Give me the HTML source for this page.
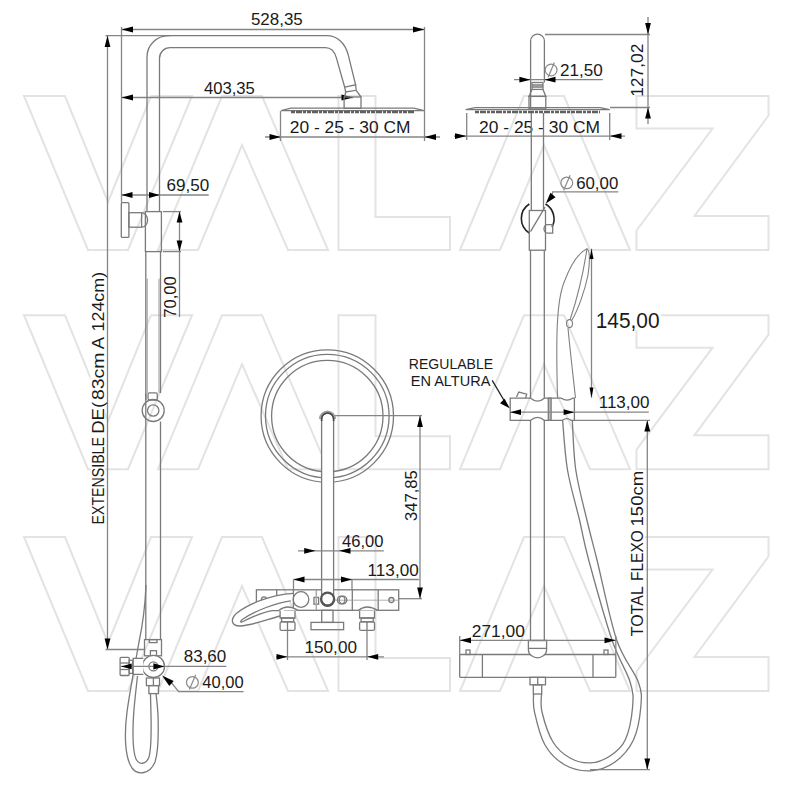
<!DOCTYPE html>
<html><head><meta charset="utf-8"><style>
html,body{margin:0;padding:0;background:#fff;}
svg{display:block;}
text{font-family:"Liberation Sans",sans-serif;}
</style></head><body>
<svg width="792" height="786" viewBox="0 0 792 786">
<rect width="792" height="786" fill="#fff"/>
<path d="M24,96 L65,96 L108,202 L151,96 L192,96 L128,250 L88,250 Z" stroke="#e3e3e3" stroke-width="2" fill="none"/>
<path d="M222,96 L262,96 L328,250 L288,250 L242,145 L198,250 L158,250 Z" stroke="#e3e3e3" stroke-width="2" fill="none"/>
<path d="M338.5,96 L375.5,96 L375.5,217 L450,217 L450,250 L338.5,250 Z" stroke="#e3e3e3" stroke-width="2" fill="none"/>
<path d="M524,96 L564,96 L630,250 L590,250 L544,145 L500,250 L460,250 Z" stroke="#e3e3e3" stroke-width="2" fill="none"/>
<path d="M636.5,96 L768.5,96 L768.5,115.5 L694.5,216 L768.5,216 L768.5,250 L636.5,250 L636.5,230.5 L712.5,128.5 L636.5,128.5 Z" stroke="#e3e3e3" stroke-width="2" fill="none"/>
<path d="M24,315.2 L65,315.2 L108,421.2 L151,315.2 L192,315.2 L128,469.2 L88,469.2 Z" stroke="#e3e3e3" stroke-width="2" fill="none"/>
<path d="M222,315.2 L262,315.2 L328,469.2 L288,469.2 L242,364.2 L198,469.2 L158,469.2 Z" stroke="#e3e3e3" stroke-width="2" fill="none"/>
<path d="M338.5,315.2 L375.5,315.2 L375.5,436.2 L450,436.2 L450,469.2 L338.5,469.2 Z" stroke="#e3e3e3" stroke-width="2" fill="none"/>
<path d="M524,315.2 L564,315.2 L630,469.2 L590,469.2 L544,364.2 L500,469.2 L460,469.2 Z" stroke="#e3e3e3" stroke-width="2" fill="none"/>
<path d="M636.5,315.2 L768.5,315.2 L768.5,334.7 L694.5,435.2 L768.5,435.2 L768.5,469.2 L636.5,469.2 L636.5,449.7 L712.5,347.7 L636.5,347.7 Z" stroke="#e3e3e3" stroke-width="2" fill="none"/>
<path d="M24,537 L65,537 L108,643 L151,537 L192,537 L128,691 L88,691 Z" stroke="#e3e3e3" stroke-width="2" fill="none"/>
<path d="M222,537 L262,537 L328,691 L288,691 L242,586 L198,691 L158,691 Z" stroke="#e3e3e3" stroke-width="2" fill="none"/>
<path d="M338.5,537 L375.5,537 L375.5,658 L450,658 L450,691 L338.5,691 Z" stroke="#e3e3e3" stroke-width="2" fill="none"/>
<path d="M524,537 L564,537 L630,691 L590,691 L544,586 L500,691 L460,691 Z" stroke="#e3e3e3" stroke-width="2" fill="none"/>
<path d="M636.5,537 L768.5,537 L768.5,556.5 L694.5,657 L768.5,657 L768.5,691 L636.5,691 L636.5,671.5 L712.5,569.5 L636.5,569.5 Z" stroke="#e3e3e3" stroke-width="2" fill="none"/>
<rect x="596" y="311" width="65" height="19" fill="#fff"/>
<rect x="630" y="470" width="15" height="167" fill="#fff"/>
<rect x="90.5" y="272" width="14.5" height="252" fill="#fff"/>
<line x1="121.5" y1="29.5" x2="424.5" y2="29.5" stroke="#858585" stroke-width="1.3"/>
<polygon points="121.50,29.50 133.00,26.60 133.00,32.40" fill="#000"/>
<polygon points="424.50,29.50 413.00,32.40 413.00,26.60" fill="#000"/>
<text x="250.92" y="25.2" font-size="17" textLength="51.89" lengthAdjust="spacingAndGlyphs" fill="#1a1a1a" >528,35</text>
<line x1="121.5" y1="27" x2="121.5" y2="202.5" stroke="#858585" stroke-width="1.3"/>
<line x1="424.5" y1="27" x2="424.5" y2="141" stroke="#858585" stroke-width="1.3"/>
<line x1="105.5" y1="35.7" x2="170" y2="35.7" stroke="#858585" stroke-width="1.3"/>
<line x1="121.5" y1="97.5" x2="353" y2="97.5" stroke="#858585" stroke-width="1.3"/>
<polygon points="121.50,97.50 133.00,94.60 133.00,100.40" fill="#000"/>
<polygon points="353.00,97.50 341.50,100.40 341.50,94.60" fill="#000"/>
<text x="203.92" y="93.6" font-size="17" textLength="50.98" lengthAdjust="spacingAndGlyphs" fill="#1a1a1a" >403,35</text>
<line x1="107.5" y1="35.7" x2="107.5" y2="649.7" stroke="#858585" stroke-width="1.3"/>
<polygon points="107.50,35.70 110.40,47.00 104.60,47.00" fill="#000"/>
<polygon points="107.50,649.70 104.60,638.50 110.40,638.50" fill="#000"/>
<line x1="105.5" y1="649.5" x2="144" y2="649.5" stroke="#858585" stroke-width="1.3"/>
<text transform="translate(103.8,524.46) rotate(-90)" x="0" y="0" font-size="16" textLength="87.37" lengthAdjust="spacingAndGlyphs" fill="#1a1a1a">EXTENSIBLE</text>
<text transform="translate(103.8,433.72) rotate(-90)" x="0" y="0" font-size="16" textLength="31.82" lengthAdjust="spacingAndGlyphs" fill="#1a1a1a">DE(</text>
<text transform="translate(103.8,400.04) rotate(-90)" x="0" y="0" font-size="16" textLength="47.42" lengthAdjust="spacingAndGlyphs" fill="#1a1a1a">83cm</text>
<text transform="translate(103.8,349.34) rotate(-90)" x="0" y="0" font-size="16" textLength="12.27" lengthAdjust="spacingAndGlyphs" fill="#1a1a1a">A</text>
<text transform="translate(103.8,331.46) rotate(-90)" x="0" y="0" font-size="16" textLength="59.57" lengthAdjust="spacingAndGlyphs" fill="#1a1a1a">124cm)</text>
<path d="M147,211.6 V57.4 A21.5,21.5 0 0 1 168.5,35.7 H326.6 C338,35.7 345.5,44 348.3,55.2 L355.6,84.8" stroke="#7a7a7a" stroke-width="1.3" fill="none" />
<path d="M159.5,211.6 V58.2 A10.5,10.5 0 0 1 170,47.7 H325.4 C330,47.7 334,50 336.3,57.6 L344.7,87.2" stroke="#7a7a7a" stroke-width="1.3" fill="none" />
<path d="M344.7,87.2 L355.6,84.8 L356.2,90.3 L345.7,92 Z" stroke="#7a7a7a" stroke-width="1.3" fill="none" />
<path d="M345.7,92 L344.5,97 M356.2,90.3 L361,97" stroke="#7a7a7a" stroke-width="1.3" fill="none" />
<rect x="344.1" y="97" width="16.90" height="11.40" rx="0" stroke="#7a7a7a" stroke-width="1.3" fill="none"/>
<path d="M281,110.7 L291,108.1 H414 L424,110.7 Z" stroke="#7a7a7a" stroke-width="1.3" fill="none" />
<line x1="291" y1="112" x2="414" y2="112" stroke="#606060" stroke-width="2.6" stroke-dasharray="4,1,6,1,3,1"/>
<line x1="265" y1="137" x2="440" y2="137" stroke="#858585" stroke-width="1.3"/>
<polygon points="281.00,137.00 269.50,139.90 269.50,134.10" fill="#000"/>
<polygon points="424.50,137.00 436.00,134.10 436.00,139.90" fill="#000"/>
<line x1="280.5" y1="111" x2="280.5" y2="141" stroke="#858585" stroke-width="1.3"/>
<text x="289.83" y="133.4" font-size="17" textLength="120.60" lengthAdjust="spacingAndGlyphs" fill="#1a1a1a" >20 - 25 - 30 CM</text>
<rect x="121.3" y="202.7" width="7.60" height="34.70" rx="1" stroke="#7a7a7a" stroke-width="1.3" fill="none"/>
<rect x="128.9" y="212.7" width="12.70" height="14.50" rx="0" stroke="#7a7a7a" stroke-width="1.3" fill="none"/>
<path d="M141.6,212.7 A6,7.25 0 0 1 141.6,227.2" stroke="#7a7a7a" stroke-width="1.3" fill="none" />
<rect x="145.4" y="211.6" width="16.00" height="40.00" rx="0" stroke="#7a7a7a" stroke-width="1.3" fill="none"/>
<line x1="121.5" y1="195" x2="208.7" y2="195" stroke="#858585" stroke-width="1.3"/>
<polygon points="121.50,195.00 132.50,192.10 132.50,197.90" fill="#000"/>
<polygon points="159.90,195.00 149.00,197.90 149.00,192.10" fill="#000"/>
<text x="166.63" y="190.5" font-size="17" textLength="42.73" lengthAdjust="spacingAndGlyphs" fill="#1a1a1a" >69,50</text>
<line x1="163" y1="211.6" x2="181" y2="211.6" stroke="#858585" stroke-width="1.3"/>
<line x1="163" y1="251.6" x2="181" y2="251.6" stroke="#858585" stroke-width="1.3"/>
<line x1="179.5" y1="211.6" x2="179.5" y2="317" stroke="#858585" stroke-width="1.3"/>
<polygon points="179.50,211.60 182.40,222.60 176.60,222.60" fill="#000"/>
<polygon points="179.50,251.60 176.60,240.60 182.40,240.60" fill="#000"/>
<text transform="translate(176,317.85) rotate(-90)" x="0" y="0" font-size="17" textLength="41.60" lengthAdjust="spacingAndGlyphs" fill="#1a1a1a">70,00</text>
<path d="M145.8,251.6 V639.6 M160.5,251.6 V392.9 M160.5,421.5 V639.6" stroke="#7a7a7a" stroke-width="1.3" fill="none" />
<path d="M145.8,392.9 V400" stroke="#7a7a7a" stroke-width="1.3" fill="none" />
<rect x="148" y="392.9" width="9.30" height="7.10" rx="1.5" stroke="#7a7a7a" stroke-width="1.3" fill="none"/>
<line x1="147.2" y1="278.7" x2="147.2" y2="392.9" stroke="#999" stroke-width="1"/>
<line x1="159" y1="278.7" x2="159" y2="392.9" stroke="#999" stroke-width="1"/>
<circle cx="153.2" cy="410.5" r="11" stroke="#7a7a7a" stroke-width="1.3" fill="none"/>
<circle cx="153.2" cy="410.5" r="5.7" stroke="#7a7a7a" stroke-width="1.3" fill="none"/>
<path d="M146,585 C145,610 142,628 139,642 C135,665 130,690 127,712 C124,735 125,758 132,768 C138,776 150,774 155,762 C159,750 158.5,730 158,715 C157.5,705 156.5,698 156,693.6" stroke="#7a7a7a" stroke-width="1.3" fill="none" />
<path d="M137.5,676 C136,690 134,705 133.3,720 C132.5,738 133,752 136,759 C139,765 146,765 149,757 C151.5,748 151.3,730 151,715 C150.8,705 150.5,698 150.5,693.6" stroke="#7a7a7a" stroke-width="1.3" fill="none" />
<rect x="144.5" y="639.6" width="17.00" height="16.20" rx="0" stroke="#7a7a7a" stroke-width="1.3" fill="none"/>
<rect x="149.4" y="639.6" width="7.60" height="3.00" rx="0" stroke="#7a7a7a" stroke-width="1.3" fill="none"/>
<rect x="150.4" y="650.7" width="6.10" height="5.10" rx="0" stroke="#7a7a7a" stroke-width="1.3" fill="none"/>
<circle cx="153.4" cy="666.4" r="11.1" stroke="#7a7a7a" stroke-width="1.3" fill="#fff"/>
<circle cx="153.4" cy="666.4" r="4.5" stroke="#7a7a7a" stroke-width="1.3" fill="none"/>
<rect x="120.1" y="657.3" width="9.10" height="18.20" rx="1" stroke="#7a7a7a" stroke-width="1.3" fill="none"/>
<line x1="120.1" y1="663" x2="129.2" y2="663" stroke="#7a7a7a" stroke-width="1.3"/>
<line x1="120.1" y1="669.5" x2="129.2" y2="669.5" stroke="#7a7a7a" stroke-width="1.3"/>
<rect x="129.2" y="660.3" width="3.50" height="13.10" rx="0" stroke="#7a7a7a" stroke-width="1.3" fill="none"/>
<path d="M143.3,658.3 H133.2 V674.4 H143.3" stroke="#7a7a7a" stroke-width="1.3" fill="#fff" />
<line x1="121" y1="666.4" x2="226.4" y2="666.4" stroke="#858585" stroke-width="1.3"/>
<polygon points="121.00,666.40 131.70,663.50 131.70,669.30" fill="#000"/>
<polygon points="164.50,666.40 153.40,669.60 153.40,663.20" fill="#000"/>
<text x="183.76" y="662" font-size="17" textLength="42.50" lengthAdjust="spacingAndGlyphs" fill="#1a1a1a" >83,60</text>
<path d="M170,681 L178.7,691.6 H243.6" stroke="#858585" stroke-width="1.3" fill="none" />
<polygon points="162.00,675.50 173.69,680.90 169.31,686.10" fill="#000"/>
<ellipse cx="192.40" cy="682.40" rx="5.9" ry="5.8" stroke="#8a8a8a" stroke-width="1.2" fill="none"/>
<line x1="189.40" y1="689.60" x2="195.70" y2="674.80" stroke="#8a8a8a" stroke-width="1.2"/>
<text x="202.32" y="688" font-size="17" textLength="41.32" lengthAdjust="spacingAndGlyphs" fill="#1a1a1a" >40,00</text>
<rect x="146.4" y="678" width="13.10" height="7.60" rx="0" stroke="#7a7a7a" stroke-width="1.3" fill="none"/>
<line x1="153.4" y1="678" x2="153.4" y2="685.6" stroke="#7a7a7a" stroke-width="1.3"/>
<rect x="148.9" y="685.6" width="9.60" height="8.00" rx="0" stroke="#7a7a7a" stroke-width="1.3" fill="none"/>
<circle cx="327.3" cy="416.1" r="66.2" stroke="#7a7a7a" stroke-width="1.3" fill="none"/>
<circle cx="327.3" cy="416.1" r="61.8" stroke="#7a7a7a" stroke-width="1.3" fill="none"/>
<circle cx="327.3" cy="416.1" r="55.7" stroke="#7a7a7a" stroke-width="1.3" fill="none"/>
<line x1="335" y1="415.7" x2="422" y2="415.7" stroke="#858585" stroke-width="1.3"/>
<line x1="399" y1="598.7" x2="422" y2="598.7" stroke="#858585" stroke-width="1.3"/>
<line x1="420" y1="415.7" x2="420" y2="598.7" stroke="#858585" stroke-width="1.3"/>
<polygon points="420.00,415.70 422.90,427.00 417.10,427.00" fill="#000"/>
<polygon points="420.00,598.70 417.10,587.50 422.90,587.50" fill="#000"/>
<text transform="translate(417,521.03) rotate(-90)" x="0" y="0" font-size="17" textLength="50.73" lengthAdjust="spacingAndGlyphs" fill="#1a1a1a">347,85</text>
<rect x="256.4" y="589.8" width="142.30" height="20.50" rx="0" stroke="#7a7a7a" stroke-width="1.3" fill="none"/>
<line x1="276.7" y1="589.8" x2="276.7" y2="610.3" stroke="#7a7a7a" stroke-width="1.3"/>
<line x1="293.4" y1="589.8" x2="293.4" y2="610.3" stroke="#7a7a7a" stroke-width="1.3"/>
<line x1="352.3" y1="589.8" x2="352.3" y2="610.3" stroke="#7a7a7a" stroke-width="1.3"/>
<line x1="378.2" y1="589.8" x2="378.2" y2="610.3" stroke="#7a7a7a" stroke-width="1.3"/>
<line x1="333.6" y1="600.2" x2="399" y2="600.2" stroke="#999" stroke-width="0.8"/>
<circle cx="264" cy="599.4" r="2.5" stroke="#7a7a7a" stroke-width="1.3" fill="none"/>
<circle cx="391.4" cy="600" r="2.5" stroke="#7a7a7a" stroke-width="1.3" fill="none"/>
<circle cx="301" cy="599.5" r="7.8" stroke="#7a7a7a" stroke-width="1.3" fill="none"/>
<rect x="314" y="597.4" width="4.60" height="6.80" rx="0" stroke="#7a7a7a" stroke-width="1.3" fill="none"/>
<line x1="316.3" y1="590" x2="316.3" y2="610" stroke="#aaa" stroke-width="1.5"/>
<circle cx="343" cy="600" r="3.8" stroke="#7a7a7a" stroke-width="1.3" fill="none"/>
<circle cx="341.2" cy="600" r="3.8" stroke="#7a7a7a" stroke-width="1.3" fill="none"/>
<path d="M321.6,599 V419 A6,6 0 0 1 333.6,419 V599 A6,6 0 0 1 321.6,599 Z" stroke="#7a7a7a" stroke-width="1.3" fill="#fff" />
<path d="M320.2,419 A7.3,7.3 0 0 1 334.8,419" stroke="#a0a0a0" stroke-width="2.6" fill="none" />
<path d="M321.6,421 V419 A6,6 0 0 1 333.6,419 V421" stroke="#444" stroke-width="1.6" fill="none" />
<circle cx="327.6" cy="599.2" r="6.6" stroke="#555" stroke-width="2.2" fill="none"/>
<rect x="321.7" y="610.3" width="11.30" height="12.10" rx="0" stroke="#7a7a7a" stroke-width="1.3" fill="none"/>
<rect x="311" y="622.4" width="32.60" height="7.30" rx="0" stroke="#7a7a7a" stroke-width="1.3" fill="none"/>
<path d="M293.4,593.4 C270,595 248,604 237,613 C230,619 231,626 240,626 C254,625 268,619 280.2,616 L290.8,600.9 Z" stroke="none" stroke-width="1.3" fill="#fff" />
<path d="M293.4,593.4 C270,595 248,604 237,613 C230,619 231,626 240,626 C254,625 268,619 280.2,616" stroke="#7a7a7a" stroke-width="1.3" fill="none" />
<path d="M290.8,600.9 C275,603 255,611 243,619 C240,621 240,622.5 242,622 C252,617 262,612 272.2,610.6 L279.3,610.6" stroke="#7a7a7a" stroke-width="1.3" fill="none" />
<path d="M278.8,610.4 Q287.5,603.6 297.9,610.4 M280.1,611 V618 H295.0 V611" stroke="#7a7a7a" stroke-width="1.3" fill="#fff" />
<rect x="281.6" y="618" width="12.10" height="3.80" rx="0" stroke="#7a7a7a" stroke-width="1.3" fill="none"/>
<rect x="280.1" y="621.8" width="14.90" height="8.60" rx="1.5" stroke="#7a7a7a" stroke-width="1.3" fill="none"/>
<line x1="287.5" y1="621.8" x2="287.5" y2="630.4" stroke="#7a7a7a" stroke-width="1.3"/>
<line x1="287.5" y1="630.4" x2="287.5" y2="660" stroke="#858585" stroke-width="1.3"/>
<path d="M358.3,610.4 Q367,603.6 377.4,610.4 M359.6,611 V618 H374.5 V611" stroke="#7a7a7a" stroke-width="1.3" fill="#fff" />
<rect x="361.1" y="618" width="12.10" height="3.80" rx="0" stroke="#7a7a7a" stroke-width="1.3" fill="none"/>
<rect x="359.6" y="621.8" width="14.90" height="8.60" rx="1.5" stroke="#7a7a7a" stroke-width="1.3" fill="none"/>
<line x1="367" y1="621.8" x2="367" y2="630.4" stroke="#7a7a7a" stroke-width="1.3"/>
<line x1="367" y1="630.4" x2="367" y2="660" stroke="#858585" stroke-width="1.3"/>
<line x1="298" y1="550.8" x2="383.8" y2="550.8" stroke="#858585" stroke-width="1.3"/>
<polygon points="315.60,550.80 304.20,553.70 304.20,547.90" fill="#000"/>
<polygon points="339.00,550.80 350.50,547.90 350.50,553.70" fill="#000"/>
<text x="342.02" y="547" font-size="17" textLength="41.43" lengthAdjust="spacingAndGlyphs" fill="#1a1a1a" >46,00</text>
<line x1="293.5" y1="579.5" x2="418.9" y2="579.5" stroke="#858585" stroke-width="1.3"/>
<line x1="293.5" y1="579.5" x2="293.5" y2="589.8" stroke="#858585" stroke-width="1.3"/>
<line x1="352" y1="579.5" x2="352" y2="589.8" stroke="#858585" stroke-width="1.3"/>
<polygon points="293.50,579.50 304.50,576.60 304.50,582.40" fill="#000"/>
<polygon points="352.00,579.50 341.00,582.40 341.00,576.60" fill="#000"/>
<text x="367.63" y="576" font-size="17" textLength="51.02" lengthAdjust="spacingAndGlyphs" fill="#1a1a1a" >113,00</text>
<line x1="276" y1="656.8" x2="384" y2="656.8" stroke="#858585" stroke-width="1.3"/>
<polygon points="287.50,656.80 276.50,659.70 276.50,653.90" fill="#000"/>
<polygon points="367.20,656.80 378.20,653.90 378.20,659.70" fill="#000"/>
<text x="304.49" y="653" font-size="17" textLength="52.48" lengthAdjust="spacingAndGlyphs" fill="#1a1a1a" >150,00</text>
<path d="M530.6,108.9 V41 A6.9,6.9 0 0 1 544.4,41 V82.5" stroke="#7a7a7a" stroke-width="1.3" fill="none" />
<rect x="532" y="82.5" width="11.00" height="6.90" rx="0" stroke="#7a7a7a" stroke-width="1.3" fill="none"/>
<path d="M532,85 H543 M532,87 H543" stroke="#7a7a7a" stroke-width="1.3" fill="none" />
<path d="M532,89.4 L529,96.4 H545.8 L543,89.4" stroke="#7a7a7a" stroke-width="1.3" fill="none" />
<rect x="529" y="96.4" width="16.80" height="12.50" rx="0" stroke="#7a7a7a" stroke-width="1.3" fill="none"/>
<path d="M465.7,109.7 L475,107.6 H600 L609.7,109.7 Z" stroke="#7a7a7a" stroke-width="1.3" fill="none" />
<line x1="475" y1="112" x2="600" y2="112" stroke="#606060" stroke-width="2.6" stroke-dasharray="4,1,6,1,3,1"/>
<line x1="545" y1="34.5" x2="650" y2="34.5" stroke="#858585" stroke-width="1.3"/>
<line x1="610" y1="107.5" x2="650" y2="107.5" stroke="#858585" stroke-width="1.3"/>
<line x1="648" y1="17" x2="648" y2="124" stroke="#858585" stroke-width="1.3"/>
<polygon points="648.00,34.50 645.10,23.00 650.90,23.00" fill="#000"/>
<polygon points="648.00,107.50 650.90,118.50 645.10,118.50" fill="#000"/>
<text transform="translate(643.3,96.82) rotate(-90)" x="0" y="0" font-size="17" textLength="53.20" lengthAdjust="spacingAndGlyphs" fill="#1a1a1a">127,02</text>
<line x1="514" y1="79.7" x2="602.8" y2="79.7" stroke="#858585" stroke-width="1.3"/>
<polygon points="530.60,79.70 519.40,82.60 519.40,76.80" fill="#000"/>
<polygon points="544.40,79.70 555.50,76.80 555.50,82.60" fill="#000"/>
<ellipse cx="551.10" cy="70.00" rx="5.9" ry="5.8" stroke="#8a8a8a" stroke-width="1.2" fill="none"/>
<line x1="548.10" y1="77.20" x2="554.40" y2="62.40" stroke="#8a8a8a" stroke-width="1.2"/>
<text x="560.14" y="75.6" font-size="17" textLength="42.73" lengthAdjust="spacingAndGlyphs" fill="#1a1a1a" >21,50</text>
<line x1="454" y1="136.1" x2="625" y2="136.1" stroke="#858585" stroke-width="1.3"/>
<polygon points="466.70,136.10 455.00,139.00 455.00,133.20" fill="#000"/>
<polygon points="609.70,136.10 621.50,133.20 621.50,139.00" fill="#000"/>
<line x1="466.7" y1="113" x2="466.7" y2="140" stroke="#858585" stroke-width="1.3"/>
<line x1="609.7" y1="113" x2="609.7" y2="140" stroke="#858585" stroke-width="1.3"/>
<text x="479.12" y="132.5" font-size="17" textLength="120.90" lengthAdjust="spacingAndGlyphs" fill="#1a1a1a" >20 - 25 - 30 CM</text>
<path d="M531.3,113 V210.5 M543.5,113 V210.5" stroke="#7a7a7a" stroke-width="1.3" fill="none" />
<path d="M529.3,204 A17.2,17.2 0 0 0 529.3,233" stroke="#222" stroke-width="1.6" fill="none" />
<path d="M545.5,204 A17.2,17.2 0 0 1 552,227" stroke="#222" stroke-width="1.6" fill="none" />
<rect x="529.3" y="210.5" width="16.20" height="39.70" rx="0" stroke="#7a7a7a" stroke-width="1.3" fill="none"/>
<line x1="530.5" y1="231.6" x2="545" y2="207.2" stroke="#7a7a7a" stroke-width="1.3"/>
<path d="M552.7,224.7 H547.5 A3.5,4.2 0 0 0 547.5,233.1 H552.7 Z" stroke="#7a7a7a" stroke-width="1.3" fill="none" />
<path d="M551.5,197 L552.7,191.9 H618.3" stroke="#858585" stroke-width="1.3" fill="none" />
<polygon points="545.80,203.40 550.42,192.79 555.58,197.21" fill="#000"/>
<ellipse cx="566.80" cy="182.90" rx="5.9" ry="5.8" stroke="#8a8a8a" stroke-width="1.2" fill="none"/>
<line x1="563.80" y1="190.10" x2="570.10" y2="175.30" stroke="#8a8a8a" stroke-width="1.2"/>
<text x="576.15" y="188.5" font-size="17" textLength="42.11" lengthAdjust="spacingAndGlyphs" fill="#1a1a1a" >60,00</text>
<path d="M530.5,250.2 V398.2 M544.3,250.2 V398.2" stroke="#7a7a7a" stroke-width="1.3" fill="none" />
<path d="M557.5,398 C556,340 556,300 565,280 C572,262 580,252 587,248.7 C590,250 590,262 588,275 C585,290 578,310 572,320" stroke="#808080" stroke-width="1.1" fill="none" />
<path d="M587,248.7 C585,262 580,290 570,320" stroke="#808080" stroke-width="1.1" fill="none" />
<ellipse cx="569.5" cy="323.6" rx="3" ry="4" stroke="#808080" stroke-width="1.1" fill="none"/>
<path d="M568,328 C570,350 573,375 575.5,398" stroke="#808080" stroke-width="1.1" fill="none" />
<line x1="591.5" y1="248.7" x2="591.5" y2="397.7" stroke="#858585" stroke-width="1.3"/>
<polygon points="591.50,248.70 593.50,259.00 589.50,259.00" fill="#000"/>
<polygon points="591.50,397.70 589.50,387.40 593.50,387.40" fill="#000"/>
<text x="595.71" y="327.8" font-size="21.5" textLength="63.80" lengthAdjust="spacingAndGlyphs" fill="#1a1a1a" >145,00</text>
<text x="408.85" y="369.2" font-size="15.5" textLength="84.25" lengthAdjust="spacingAndGlyphs" fill="#1a1a1a" >REGULABLE</text>
<text x="410.84" y="386.2" font-size="15.5" textLength="79.49" lengthAdjust="spacingAndGlyphs" fill="#1a1a1a" >EN ALTURA</text>
<path d="M492.2,380.4 L505,402" stroke="#222" stroke-width="1.3" fill="none" />
<polygon points="510.00,408.40 500.08,403.31 504.52,398.69" fill="#000"/>
<path d="M510.2,398.2 H530.7 Q537.5,404 544.3,398.2 H561.4 Q567,402 572.7,398.2 H574.4 V420.3 H571 Q566.7,417 562.5,420.3 H544.3 Q537.5,414.5 530.7,420.3 H510.2 Z" stroke="#7a7a7a" stroke-width="1.3" fill="none" />
<rect x="548.3" y="398.2" width="2.80" height="22.10" rx="0" stroke="#7a7a7a" stroke-width="1.3" fill="#bbb"/>
<path d="M516.5,397 L518.8,392 L526.7,394.2 L525.6,398.2" stroke="#7a7a7a" stroke-width="1.3" fill="none" />
<line x1="510.2" y1="412.2" x2="648.8" y2="412.2" stroke="#858585" stroke-width="1.3"/>
<polygon points="510.20,412.20 521.00,409.30 521.00,415.10" fill="#000"/>
<polygon points="574.40,412.20 563.60,415.10 563.60,409.30" fill="#000"/>
<text x="598.74" y="408.4" font-size="17" textLength="50.71" lengthAdjust="spacingAndGlyphs" fill="#1a1a1a" >113,00</text>
<path d="M530.5,420.3 V640.9 M544.3,420.3 V640.9" stroke="#7a7a7a" stroke-width="1.3" fill="none" />
<path d="M572.3,420.3 C572.88,428.58 573.37,453.38 575.8,470 C578.23,486.62 583.37,505.00 586.9,520 C590.43,535.00 592.03,540.00 597,560 C601.97,580.00 609.82,619.67 616.7,640 C623.58,660.33 634.28,670.83 638.3,682 C642.32,693.17 641.62,697.33 640.8,707 C639.98,716.67 637.70,730.83 633.4,740 C629.10,749.17 622.12,756.87 615,762 C607.88,767.13 599.03,770.30 590.7,770.8 C582.37,771.30 572.62,769.30 565,765 C557.38,760.70 550.08,753.83 545,745 C539.92,736.17 536.42,720.50 534.5,712 C532.58,703.50 533.67,697.00 533.5,694" stroke="#7a7a7a" stroke-width="1.3" fill="none" />
<path d="M562.6,420.3 C563.42,428.58 564.68,453.38 567.5,470 C570.32,486.62 575.97,505.00 579.5,520 C583.03,535.00 583.28,540.00 588.7,560 C594.12,580.00 605.10,619.67 612,640 C618.90,660.33 626.67,670.83 630.1,682 C633.53,693.17 633.42,697.33 632.6,707 C631.78,716.67 628.97,731.83 625.2,740 C621.43,748.17 615.75,752.18 610,756 C604.25,759.82 597.37,762.57 590.7,762.9 C584.03,763.23 576.28,761.48 570,758 C563.72,754.52 557.67,749.67 553,742 C548.33,734.33 543.92,720.00 542,712 C540.08,704.00 541.58,697.00 541.5,694" stroke="#7a7a7a" stroke-width="1.3" fill="none" />
<rect x="533.3" y="684.8" width="8.40" height="9.20" rx="0" stroke="#7a7a7a" stroke-width="1.3" fill="none"/>
<line x1="574.4" y1="420.3" x2="650" y2="420.3" stroke="#858585" stroke-width="1.3"/>
<line x1="647.3" y1="420.3" x2="647.3" y2="769.7" stroke="#858585" stroke-width="1.3"/>
<polygon points="647.30,420.30 650.20,431.50 644.40,431.50" fill="#000"/>
<polygon points="647.30,769.70 644.40,758.50 650.20,758.50" fill="#000"/>
<line x1="590" y1="769.7" x2="650" y2="769.7" stroke="#858585" stroke-width="1.3"/>
<text transform="translate(643.2,636.15) rotate(-90)" x="0" y="0" font-size="16.5" textLength="49.96" lengthAdjust="spacingAndGlyphs" fill="#1a1a1a">TOTAL</text>
<text transform="translate(643.2,580.97) rotate(-90)" x="0" y="0" font-size="16.5" textLength="50.81" lengthAdjust="spacingAndGlyphs" fill="#1a1a1a">FLEXO</text>
<text transform="translate(643.2,526.52) rotate(-90)" x="0" y="0" font-size="16.5" textLength="55.84" lengthAdjust="spacingAndGlyphs" fill="#1a1a1a">150cm</text>
<rect x="459.7" y="654.5" width="156.10" height="22.80" rx="0.8" stroke="#7a7a7a" stroke-width="1.3" fill="none"/>
<line x1="482.4" y1="654.5" x2="482.4" y2="677.3" stroke="#7a7a7a" stroke-width="1.3"/>
<line x1="593" y1="654.5" x2="593" y2="677.3" stroke="#7a7a7a" stroke-width="1.3"/>
<rect x="466" y="650" width="4.00" height="4.50" rx="0" stroke="#7a7a7a" stroke-width="1.3" fill="none"/>
<rect x="604" y="650" width="4.00" height="4.50" rx="0" stroke="#7a7a7a" stroke-width="1.3" fill="none"/>
<path d="M528.4,640.5 H546.6 V650 C546.6,655 541,657.8 537.5,657.8 C534,657.8 528.4,655 528.4,650 Z" stroke="#7a7a7a" stroke-width="1.3" fill="#fff" />
<line x1="528.4" y1="648.4" x2="546.6" y2="648.4" stroke="#7a7a7a" stroke-width="1.3"/>
<rect x="530" y="677.3" width="15.50" height="7.50" rx="0" stroke="#7a7a7a" stroke-width="1.3" fill="none"/>
<line x1="537.7" y1="677.3" x2="537.7" y2="684.8" stroke="#7a7a7a" stroke-width="1.3"/>
<line x1="459.7" y1="640.3" x2="615.8" y2="640.3" stroke="#858585" stroke-width="1.3"/>
<line x1="459.7" y1="636" x2="459.7" y2="654.5" stroke="#858585" stroke-width="1.3"/>
<line x1="615.8" y1="636" x2="615.8" y2="654.5" stroke="#858585" stroke-width="1.3"/>
<polygon points="459.70,640.30 471.00,637.40 471.00,643.20" fill="#000"/>
<polygon points="615.80,640.30 604.50,643.20 604.50,637.40" fill="#000"/>
<text x="471.83" y="637" font-size="17" textLength="53.05" lengthAdjust="spacingAndGlyphs" fill="#1a1a1a" >271,00</text>
</svg>
</body></html>
